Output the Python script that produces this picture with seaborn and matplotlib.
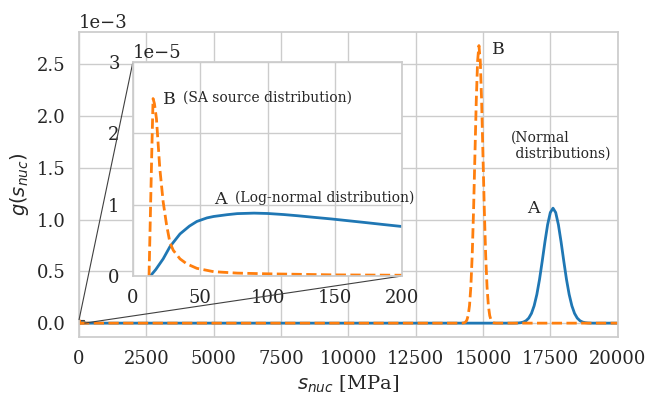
import numpy as np
import pandas as pd
import matplotlib
matplotlib.use("Agg")
import matplotlib.pyplot as plt
import seaborn as sns
from mpl_toolkits.axes_grid1.inset_locator import mark_inset

# ---------------- data ----------------
# Normal distribution A (solid blue), x in MPa, g in 1e-3
normA_x = [0, 16100, 16200, 16300, 16400, 16500, 16600, 16700, 16800, 16900,
           17000, 17100, 17200, 17300, 17400, 17500, 17600, 17700, 17800,
           17900, 18000, 18100, 18200, 18300, 18400, 18500, 18600, 18700,
           18800, 18900, 19000, 19100, 20000]
normA_g = [0, 0, 0.0005, 0.0016, 0.0043, 0.0104, 0.0234, 0.0487, 0.094, 0.168,
           0.277, 0.423, 0.599, 0.784, 0.951, 1.068, 1.110, 1.068, 0.951,
           0.784, 0.599, 0.423, 0.277, 0.168, 0.094, 0.0487, 0.0234, 0.0104,
           0.0043, 0.0016, 0.0005, 0, 0]

# Normal distribution B (dashed orange), g in 1e-3
normB_x = [0, 14200, 14250, 14300, 14350, 14400, 14450, 14500, 14550, 14600,
           14650, 14700, 14750, 14800, 14850, 14900, 14950, 15000, 15050,
           15100, 15150, 15200, 15250, 15300, 15350, 15400, 15450, 15500, 20000]
normB_g = [0, 0, 0.0008, 0.0029, 0.0096, 0.028, 0.073, 0.170, 0.353, 0.656,
           1.088, 1.615, 2.14, 2.53, 2.68, 2.53, 2.14, 1.615, 1.088,
           0.656, 0.353, 0.170, 0.073, 0.028, 0.0096, 0.0029, 0.0008, 0, 0]

# Log-normal distribution A (inset, solid blue), g in 1e-5
lognA_x = [13, 17, 22.5, 27.5, 35, 42, 47.5, 55, 60, 70, 77.5, 90, 100,
           112, 122.5, 135, 147.5, 160, 172.5, 186, 200]
lognA_g = [0, 0.09, 0.24, 0.41, 0.59, 0.70, 0.765, 0.815, 0.835, 0.86, 0.875,
           0.882, 0.877, 0.862, 0.845, 0.822, 0.80, 0.775, 0.75, 0.722, 0.694]

# SA source distribution B (inset, dashed orange), g in 1e-5
sasB_x = [12, 13, 14, 15, 16, 17.5, 20, 22.5, 25, 27.5, 30, 35, 40, 47.5,
          60, 77.5, 100, 150, 200]
sasB_g = [0, 0.85, 1.7, 2.49, 2.42, 2.21, 1.51, 1.04, 0.72, 0.47, 0.36,
          0.24, 0.17, 0.107, 0.06, 0.04, 0.03, 0.015, 0.01]

main_xticks = [0, 2500, 5000, 7500, 10000, 12500, 15000, 17500, 20000]
inset_xticks = [0, 50, 100, 150, 200]

# ---------------- style ----------------
sns.set_theme(style="whitegrid", palette="tab10", context="notebook")
plt.rcParams["font.family"] = ["DejaVu Serif"]
plt.rcParams["mathtext.fontset"] = "dejavusans"
plt.rcParams["xtick.labelsize"] = 13
plt.rcParams["ytick.labelsize"] = 13
plt.rcParams["axes.labelsize"] = 14

blue = "#1f77b4"
orange = "#ff7f0e"
lw = 2.0

fig = plt.figure(figsize=(6.46, 3.97), dpi=100)
ax = fig.add_axes([0.1223, 0.1511, 0.8338, 0.769])

dfA = pd.DataFrame({"x": normA_x, "g": np.array(normA_g) * 1e-3})
dfB = pd.DataFrame({"x": normB_x, "g": np.array(normB_g) * 1e-3})
dfLA = pd.DataFrame({"x": lognA_x, "g": np.array(lognA_g) * 1e-5})
dfSB = pd.DataFrame({"x": sasB_x, "g": np.array(sasB_g) * 1e-5})

sns.lineplot(data=dfLA, x="x", y="g", ax=ax, color=blue, linewidth=lw,
             estimator=None, sort=False)
sns.lineplot(data=dfA, x="x", y="g", ax=ax, color=blue, linewidth=lw,
             estimator=None, sort=False)
sns.lineplot(data=dfSB, x="x", y="g", ax=ax, color=orange, linewidth=lw,
             linestyle="--", estimator=None, sort=False)
sns.lineplot(data=dfB, x="x", y="g", ax=ax, color=orange, linewidth=lw,
             linestyle="--", estimator=None, sort=False)

ax.set_xlim(0, 20000)
ax.set_xticks(main_xticks)
ax.ticklabel_format(axis="y", style="sci", scilimits=(0, 0))
ax.yaxis.get_offset_text().set_fontsize(13)
ax.set_xlabel(r"$s_{nuc}$ [MPa]")
ax.set_ylabel(r"$g(s_{nuc})$")

ax.text(15330, 2.646e-3, "B", fontsize=12.5, va="center", ha="left")
ax.text(16035, 1.715e-3, "(Normal\n distributions)", fontsize=10,
        va="center", ha="left", linespacing=1.15)
ax.text(16653, 1.105e-3, "A", fontsize=12.5, va="center", ha="left")

# ---------------- inset ----------------
axins = ax.inset_axes([0.1, 0.2, 0.5, 0.7])
sns.lineplot(data=dfLA, x="x", y="g", ax=axins, color=blue, linewidth=lw,
             estimator=None, sort=False)
sns.lineplot(data=dfSB, x="x", y="g", ax=axins, color=orange, linewidth=lw,
             linestyle="--", estimator=None, sort=False)
axins.set_xlim(0, 200)
axins.set_ylim(0, 3e-5)
axins.set_xticks(inset_xticks)
axins.ticklabel_format(axis="y", style="sci", scilimits=(0, 0))
axins.yaxis.get_offset_text().set_fontsize(13)
axins.set_xlabel("")
axins.set_ylabel("")

axins.text(22.4, 2.475e-5, "B", fontsize=12.5, va="center", ha="left")
axins.text(37.3, 2.50e-5, "(SA source distribution)", fontsize=10,
           va="center", ha="left")
axins.text(60.4, 1.073e-5, "A", fontsize=12.5, va="center", ha="left")
axins.text(75.8, 1.094e-5, "(Log-normal distribution)", fontsize=10,
           va="center", ha="left")

mark_inset(ax, axins, loc1=2, loc2=4, fc="none", ec="0.25", lw=0.8)

fig.savefig("out.png", dpi=100)
